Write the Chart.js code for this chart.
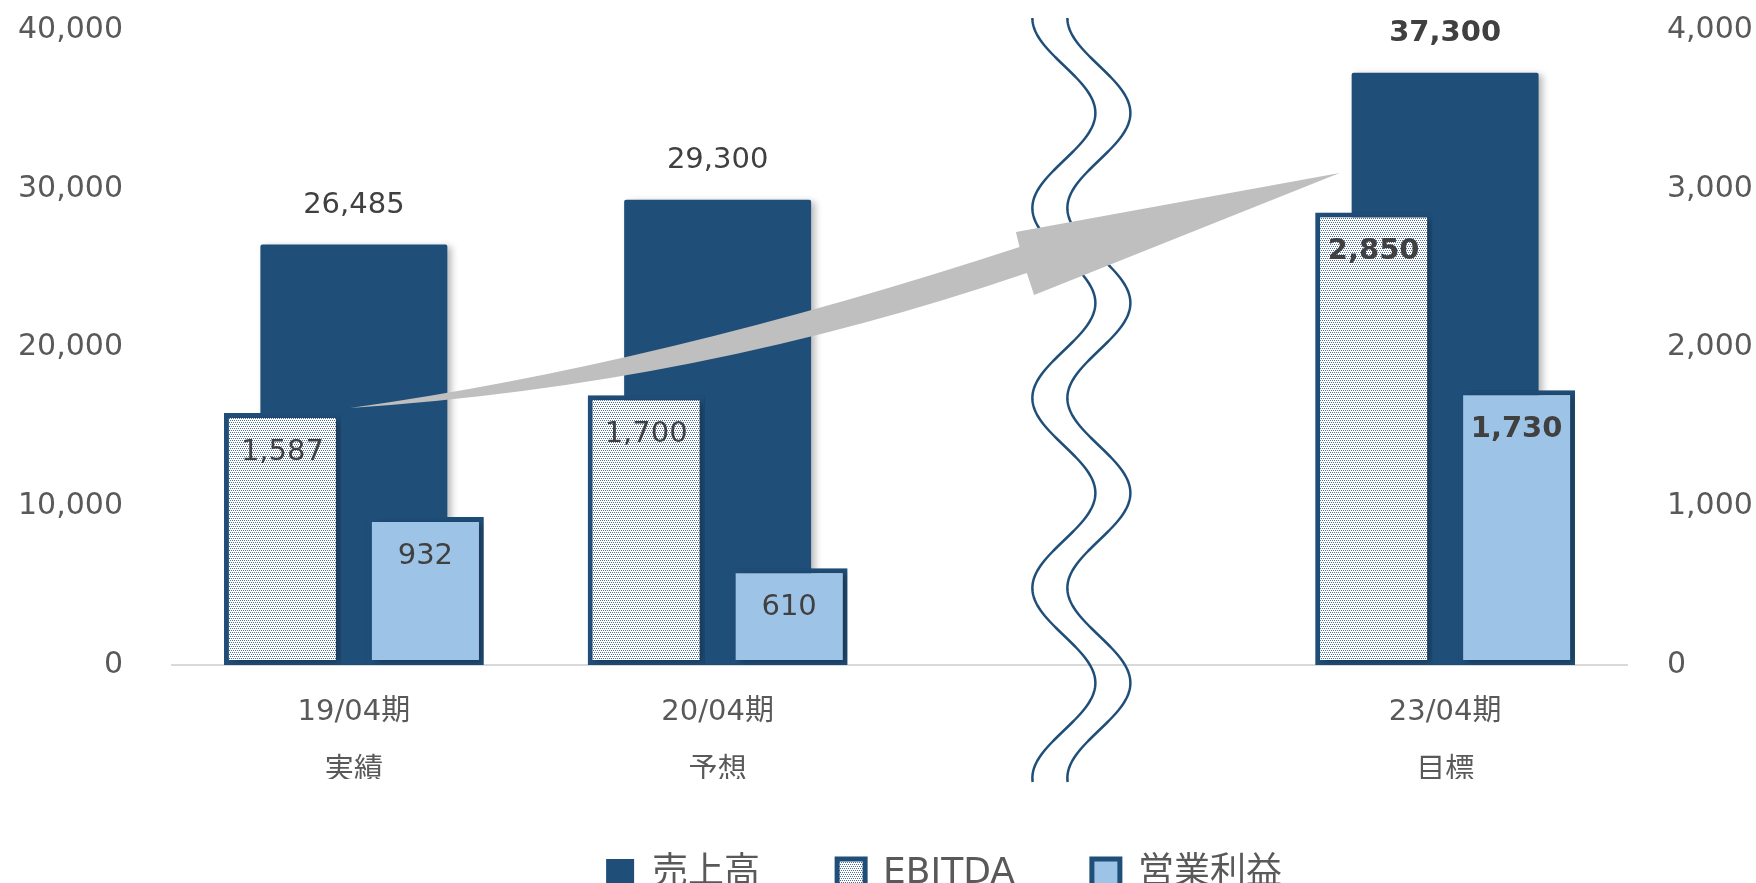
<!DOCTYPE html>
<html lang="ja">
<head>
<meta charset="utf-8">
<title>売上高・EBITDA・営業利益</title>
<script src="https://cdn.jsdelivr.net/npm/chart.js@4.4.1/dist/chart.umd.min.js"></script>
<style>
  html, body { margin: 0; padding: 0; background: #fff; overflow: hidden; }
  .chart-wrap { position: relative; width: 1756px; height: 902px; }
</style>
</head>
<body>
<div class="chart-wrap"><canvas class="js-results"></canvas></div>
<script>
// periods (the blank one is the gap behind the wavy break)
const categories = [["19/04期", "実績"], ["20/04期", "予想"], "", ["23/04期", "目標"]];
const sales = [26485, 29300, null, 37300];          // 売上高, left axis
const ebitda = [1587, 1700, null, 2850];            // EBITDA, right axis
const operatingProfit = [932, 610, null, 1730];     // 営業利益, right axis
const leftTicks = [0, 10000, 20000, 30000, 40000];
const rightTicks = [0, 1000, 2000, 3000, 4000];

const FONT = "'DejaVu Sans', 'Noto Sans CJK JP', sans-serif";
const NAVY = "#1f4e79";
const SKY = "#9dc3e6";

Chart.defaults.font.family = FONT;
Chart.defaults.color = "#595959";

const dotPattern = () => {
  const tile = document.createElement("canvas");
  tile.width = 4;
  tile.height = 4;
  const t = tile.getContext("2d");
  t.fillStyle = "#ffffff";
  t.fillRect(0, 0, 4, 4);
  t.fillStyle = "rgba(31, 78, 121, 0.8)";
  t.fillRect(0, 0, 1, 1);
  t.fillRect(2, 0, 1, 1);
  t.fillRect(1, 2, 1, 1);
  t.fillRect(3, 2, 1, 1);
  return t.createPattern(tile, "repeat");
};

// soft drop shadow under the bars
const barShadow = {
  id: "barShadow",
  beforeDatasetsDraw(chart) {
    const ctx = chart.ctx;
    ctx.save();
    ctx.shadowColor = "rgba(0, 0, 0, 0.28)";
    ctx.shadowBlur = 7;
    ctx.shadowOffsetX = 4;
    ctx.shadowOffsetY = 2;
  },
  afterDatasetsDraw(chart) {
    chart.ctx.restore();
  },
};

// wavy break in the empty period + growth arrow
const decorations = {
  id: "decorations",
  afterDatasetsDraw(chart) {
    const { ctx, scales } = chart;
    const x = scales.x;
    const y = scales.y;
    const area = chart.chartArea;

    // two wavy lines
    const cx = x.getPixelForValue(2);
    const y0 = area.top - 12;
    const y1 = area.bottom + 118;
    const amp = 31.5;
    const period = 190;
    ctx.save();
    ctx.strokeStyle = NAVY;
    ctx.lineWidth = 2.5;
    [-17.5, 17.5].forEach((off) => {
      ctx.beginPath();
      for (let py = y0; py <= y1; py += 2) {
        const px = cx + off - amp * Math.cos((2 * Math.PI * (py - y0)) / period);
        if (py === y0) ctx.moveTo(px, py);
        else ctx.lineTo(px, py);
      }
      ctx.stroke();
    });

    // arrow, points given as [category position, 売上高 value]
    const p = ([c, v]) => [x.getPixelForValue(c), y.getPixelForValue(v)];
    const tail = p([-0.01, 16190]);
    const topCtrl = p([0.84, 18900]);
    const topEnd = p([1.83, 26330]);
    const headTop = p([1.82, 27280]);
    const tip = p([2.71, 30990]);
    const headBottom = p([1.87, 23310]);
    const bottomEnd = p([1.85, 24690]);
    const bottomCtrl = p([0.95, 17640]);
    ctx.fillStyle = "#bfbfbf";
    ctx.beginPath();
    ctx.moveTo(...tail);
    ctx.quadraticCurveTo(...topCtrl, ...topEnd);
    ctx.lineTo(...headTop);
    ctx.lineTo(...tip);
    ctx.lineTo(...headBottom);
    ctx.lineTo(...bottomEnd);
    ctx.quadraticCurveTo(...bottomCtrl, ...tail);
    ctx.closePath();
    ctx.fill();
    ctx.restore();
  },
};

// value labels: above the sales bars, inside the top of the others
const valueLabels = {
  id: "valueLabels",
  afterDatasetsDraw(chart, args, opts) {
    const ctx = chart.ctx;
    ctx.save();
    ctx.fillStyle = "#404040";
    ctx.textAlign = "center";
    ctx.textBaseline = "middle";
    chart.data.datasets.forEach((ds, i) => {
      const meta = chart.getDatasetMeta(i);
      if (meta.hidden) {
        return;
      }
      meta.data.forEach((bar, j) => {
        const v = ds.data[j];
        if (v == null) {
          return;
        }
        const top = Math.min(bar.y, bar.base);
        const ty = opts.place[i] === "above" ? top - 39 : top + 39;
        ctx.font = (opts.bold[j] ? "bold " : "") + "29px " + FONT;
        ctx.fillText(v.toLocaleString("en-US"), bar.x, ty);
      });
    });
    ctx.restore();
  },
};

// nudge the legend row to the right
const legendShift = {
  id: "legendShift",
  afterLayout(chart) {
    if (chart.legend) {
      chart.legend.left += 59;
      chart.legend.right += 59;
    }
  },
};

// y axes: fixed width, no extra top/bottom padding from the tick labels
const fixAxis = (width) => (scale) => {
  scale.width = width;
  scale.paddingTop = 0;
  scale.paddingBottom = 0;
};

const drawResults = () => {
  const chartHTML = document.querySelector(".js-results");
  if (!chartHTML) {
    return;
  }
  chartHTML.graph = new Chart(chartHTML.getContext("2d"), {
    type: "bar",
    data: {
      labels: categories,
      datasets: [
        {
          label: "売上高",
          data: sales,
          yAxisID: "y",
          grouped: false,
          order: 2,
          backgroundColor: NAVY,
          borderWidth: 0,
          borderRadius: 2,
          categoryPercentage: 1,
          barPercentage: 0.514,
        },
        {
          label: "EBITDA",
          data: ebitda,
          yAxisID: "y1",
          order: 0,
          backgroundColor: dotPattern(),
          borderColor: NAVY,
          borderWidth: 5,
          borderSkipped: false,
          categoryPercentage: 0.786,
          barPercentage: 0.818,
        },
        {
          label: "営業利益",
          data: operatingProfit,
          yAxisID: "y1",
          order: 1,
          backgroundColor: SKY,
          borderColor: NAVY,
          borderWidth: 5,
          borderSkipped: false,
          categoryPercentage: 0.786,
          barPercentage: 0.818,
        },
      ],
    },
    options: {
      responsive: true,
      maintainAspectRatio: false,
      animation: false,
      locale: "en-US",
      layout: {
        padding: { top: 30, left: 14, right: 0, bottom: 0 },
      },
      plugins: {
        tooltip: { enabled: false },
        legend: {
          position: "bottom",
          labels: {
            boxWidth: 28,
            boxHeight: 30,
            padding: 77,
            color: "#595959",
            font: { size: 36 },
            sort: (a, b) => a.datasetIndex - b.datasetIndex,
          },
        },
        valueLabels: {
          place: ["above", "inside", "inside"],
          bold: [false, false, false, true],
        },
      },
      scales: {
        x: {
          offset: true,
          grid: { display: false, drawTicks: false },
          border: { display: true, color: "#d9d9d9", width: 2 },
          ticks: {
            padding: 18,
            color: "#595959",
            font: { size: 29, lineHeight: 2.03 },
            maxRotation: 0,
            autoSkip: false,
          },
          afterFit: (scale) => {
            scale.height = 114;
          },
        },
        y: {
          position: "left",
          min: 0,
          max: 40000,
          grid: { display: false, drawTicks: false },
          border: { display: false },
          ticks: { padding: 49, font: { size: 30 }, color: "#595959" },
          afterBuildTicks: (scale) => {
            scale.ticks = leftTicks.map((v) => ({ value: v }));
          },
          afterFit: fixAxis(158),
        },
        y1: {
          position: "right",
          min: 0,
          max: 4000,
          grid: { display: false, drawTicks: false },
          border: { display: false },
          ticks: { padding: 40, font: { size: 30 }, color: "#595959" },
          afterBuildTicks: (scale) => {
            scale.ticks = rightTicks.map((v) => ({ value: v }));
          },
          afterFit: fixAxis(129),
        },
      },
    },
    plugins: [barShadow, decorations, valueLabels, legendShift],
  });
};

drawResults();
</script>
</body>
</html>
